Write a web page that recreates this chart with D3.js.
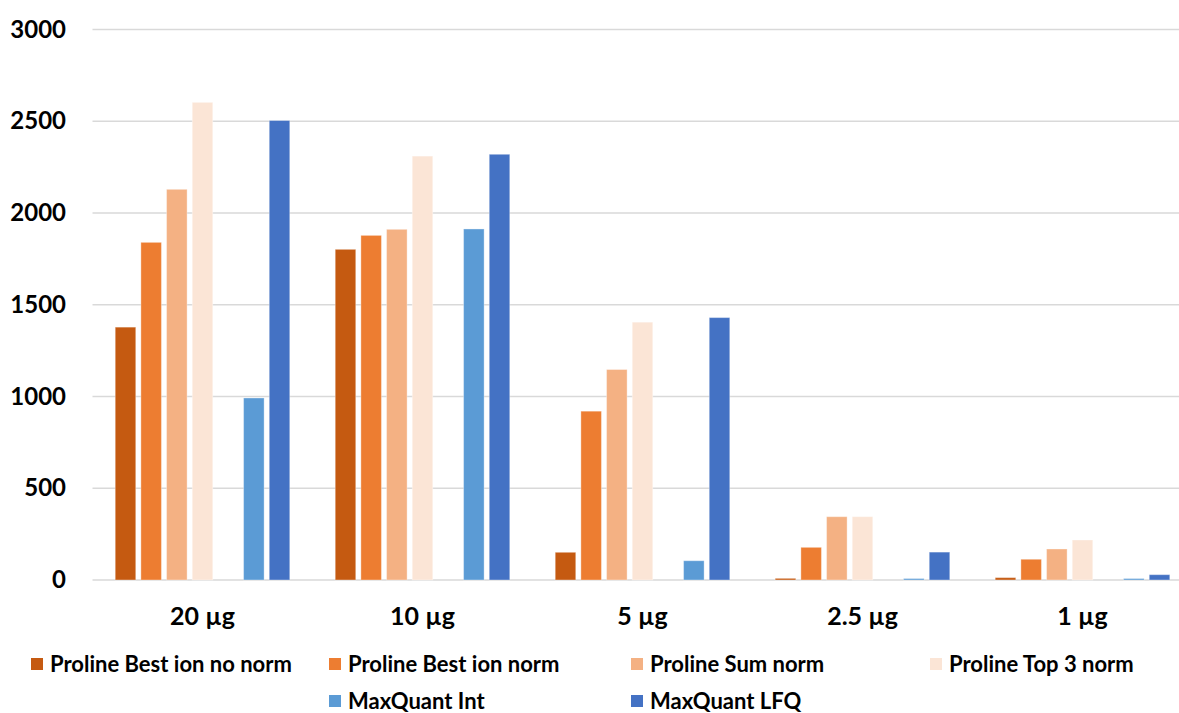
<!DOCTYPE html>
<html><head><meta charset="utf-8">
<script src="https://cdn.jsdelivr.net/npm/d3@7"></script>
<style>body{margin:0;background:#fff;overflow:hidden}svg{display:block}text{font-family:Lato,"Open Sans",sans-serif;font-weight:700;fill:#000}</style>
</head><body><svg id="c" width="1179" height="713"></svg>
<script>
const categories = ["20 µg", "10 µg", "5 µg", "2.5 µg", "1 µg"];
const seriesNames = ["Proline Best ion no norm", "Proline Best ion norm", "Proline Sum norm", "Proline Top 3 norm", "", "MaxQuant Int", "MaxQuant LFQ"];
const bestIonNoNorm = [1378, 1802, 151, 9, 13];
const bestIonNorm = [1840, 1878, 920, 178, 113];
const sumNorm = [2129, 1911, 1147, 345, 169];
const top3Norm = [2603, 2310, 1405, 345, 218];
const emptySeries = [null, null, null, null, null];
const maxQuantInt = [992, 1913, 105, 8, 8];
const maxQuantLFQ = [2504, 2320, 1430, 152, 29];
const colors = ["#C55A11", "#ED7D31", "#F4B183", "#FBE5D6", "none", "#5B9BD5", "#4472C4"];
const yTicks = [0, 500, 1000, 1500, 2000, 2500, 3000];

const values = [bestIonNoNorm, bestIonNorm, sumNorm, top3Norm, emptySeries, maxQuantInt, maxQuantLFQ];
const svg = d3.select("#c");
const L = 92.5, R = 1192.5, T = 29.5, B = 580;
const y = d3.scaleLinear().domain([0, 3000]).range([B, T]);
const x0 = d3.scaleBand().domain(categories).range([L, R]).padding(0);
const x1 = d3.scaleBand().domain(d3.range(7)).range([0, x0.bandwidth()]).paddingInner(0.2).paddingOuter(0.885);

// gridlines
svg.append("g").selectAll("line").data(yTicks).join("line")
  .attr("x1", L).attr("x2", 1179).attr("y1", d => y(d)).attr("y2", d => y(d))
  .attr("stroke", "#D9D9D9").attr("stroke-width", 1.5);

// y axis labels
const yAxis = svg.append("g").attr("transform", `translate(66,0)`)
  .call(d3.axisLeft(y).tickValues(yTicks).tickFormat(d3.format("d")).tickSize(0).tickPadding(0));
yAxis.select(".domain").remove();
yAxis.selectAll("text").attr("font-size", 24).attr("font-family", "Lato").attr("font-weight", 700).attr("fill", "#000");

// bars
const groups = svg.append("g").selectAll("g").data(categories).join("g")
  .attr("transform", d => `translate(${x0(d)},0)`);
groups.selectAll("rect").data((c, ci) => values.map((arr, si) => ({si, v: arr[ci]})).filter(d => d.v != null))
  .join("rect")
  .attr("x", d => x1(d.si)).attr("width", x1.bandwidth())
  .attr("y", d => y(d.v)).attr("height", d => B - y(d.v))
  .attr("fill", d => colors[d.si])
  .attr("stroke", "#fff").attr("stroke-opacity", 0.35).attr("stroke-width", 1);

// x axis labels
const xAxis = svg.append("g").attr("transform", `translate(0,${B})`)
  .call(d3.axisBottom(x0).tickSize(0).tickPadding(27));
xAxis.select(".domain").remove();
xAxis.selectAll("text").attr("font-size", 25).attr("font-family", "Lato").attr("font-weight", 700).attr("fill", "#000");

// legend
const legendItems = [
  {s: 0, x: 31, y: 664}, {s: 1, x: 329, y: 664}, {s: 2, x: 631, y: 664}, {s: 3, x: 930, y: 664},
  {s: 5, x: 329, y: 701}, {s: 6, x: 631, y: 701}
];
const lg = svg.append("g").selectAll("g").data(legendItems).join("g")
  .attr("transform", d => `translate(${d.x},${d.y})`);
lg.append("rect").attr("x", 0).attr("y", -6).attr("width", 12).attr("height", 12).attr("fill", d => colors[d.s]);
lg.append("text").attr("x", 19).attr("y", 0).attr("dy", "0.36em").attr("font-size", 22)
  .text(d => seriesNames[d.s]);
</script></body></html>
